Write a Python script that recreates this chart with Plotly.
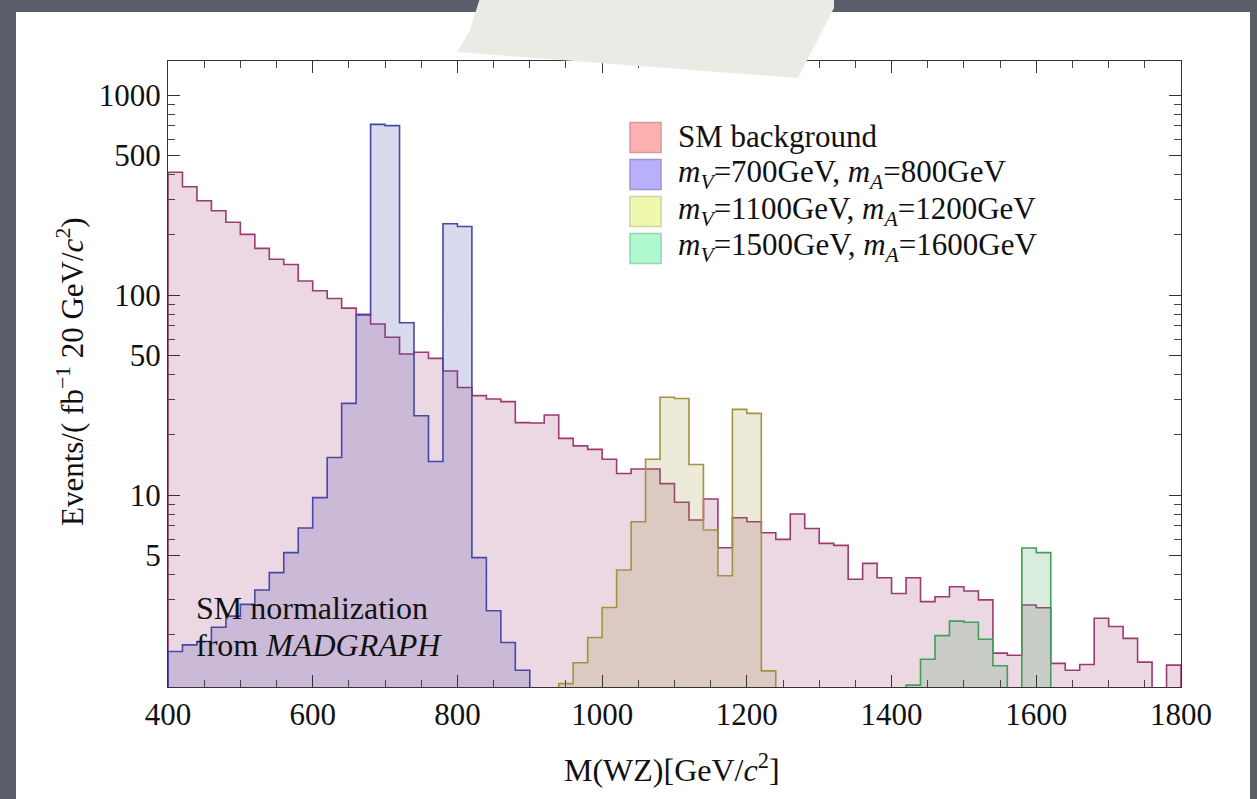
import plotly.graph_objects as go

# ---------------- data ----------------
bin_width = 20
bkg_start = 400
bkg_values = [411, 348, 296, 264, 231, 201, 171, 151, 142, 117.5,
              105, 96, 86, 80, 71.6, 61.5, 50.7, 51.7, 48.2, 41.7,
              34.5, 31.4, 30.2, 29.3, 23.0, 22.9, 25.1, 19.2, 17.6, 16.9,
              15.1, 12.8, 13.5, 13.5, 11.4, 9.2, 7.5, 9.55, 5.45, 7.7,
              7.35, 6.48, 6.0, 8.04, 6.8, 5.73, 5.6, 3.79, 4.55, 3.86,
              3.22, 3.86, 2.93, 3.1, 3.48, 3.31, 2.99, 1.62, 1.58, 2.82,
              2.73, 1.44, 1.33, 1.42, 2.42, 2.2, 1.92, 1.46, None, 1.41]

sig700_start = 400
sig700_values = [1.65, 1.78, 1.85, 2.18, 2.48, 2.84, 3.35, 4.09, 5.15, 6.84,
                 9.7, 15.4, 28.7, 79.4, 713, 703, 72.7, 24.9, 14.7, 227,
                 220, 4.86, 2.64, 1.83, 1.33]

sig1100_start = 940
sig1100_values = [1.14, 1.45, 1.94, 2.74, 4.22, 7.35, 15.1, 30.8, 30.4, 14.2,
                  6.68, 3.95, 26.8, 25.6, 1.32]

sig1500_start = 1420
sig1500_values = [1.12, 1.51, 1.98, 2.34, 2.31, 1.90, 1.40, None, 5.43, 5.15]

x_ticks = [400, 600, 800, 1000, 1200, 1400, 1600, 1800]
y_ticks = [5, 10, 50, 100, 500, 1000]
y_minor = [2, 3, 4, 6, 7, 8, 9, 20, 30, 40, 60, 70, 80, 90,
           200, 300, 400, 600, 700, 800, 900]

legend_labels = [
    "SM background",
    "<i>m</i><sub><i>V</i></sub>=700GeV, <i>m</i><sub><i>A</i></sub>=800GeV",
    "<i>m</i><sub><i>V</i></sub>=1100GeV, <i>m</i><sub><i>A</i></sub>=1200GeV",
    "<i>m</i><sub><i>V</i></sub>=1500GeV, <i>m</i><sub><i>A</i></sub>=1600GeV",
]

# ---------------- styles ----------------
FLOOR = 0.5
series = [
    (bkg_start, bkg_values, "#9c3a72", "rgba(156,58,114,0.20)"),
    (sig700_start, sig700_values, "#4848a8", "rgba(72,72,168,0.20)"),
    (sig1100_start, sig1100_values, "#a09440", "rgba(160,148,64,0.20)"),
    (sig1500_start, sig1500_values, "#40a058", "rgba(64,160,88,0.20)"),
]
legend_box = [("#ffb0b0", "#d49a9a"), ("#b8b0f8", "#9c94d8"),
              ("#f0f8b0", "#cdd498"), ("#b0f8d0", "#94d4ae")]

FONT = "Liberation Serif"
W, H = 1257, 799
L, R, T, B = 168, 1181, 61, 687


def px(x):
    return (x - L) / (R - L)


def py(y):
    return (B - y) / (B - T)


def step(start, vals):
    xs, ys = [start], [FLOOR]
    for i, v in enumerate(vals):
        xs.append(start + i * bin_width)
        ys.append(v if v is not None else FLOOR)
    xs.append(start + len(vals) * bin_width)
    ys.append(FLOOR)
    return xs, ys


fig = go.Figure()
for start, vals, lc, fc in series:
    xs, ys = step(start, vals)
    fig.add_trace(go.Scatter(x=xs, y=ys, mode="lines", line_shape="hv",
                             line=dict(color=lc, width=1.6), fill="toself",
                             fillcolor=fc, showlegend=False, hoverinfo="skip"))

shapes = []
# dark slate page with white panel
shapes.append(dict(type="rect", xref="paper", yref="paper", layer="below",
                   x0=px(16), x1=px(1250), y0=py(805), y1=py(12),
                   fillcolor="white", line=dict(width=0)))
# tape decoration
tape = [(480, -2), (834, -2), (834, 8), (798, 78), (457, 52), (470, 30)]
path = "M " + " L ".join(f"{px(a):.5f},{py(b):.5f}" for a, b in tape) + " Z"
shapes.append(dict(type="path", xref="paper", yref="paper", layer="above",
                   path=path, fillcolor="#ebeae5", line=dict(width=0)))

annotations = []
# legend (manual)
for i, (lab, (fc, bc)) in enumerate(zip(legend_labels, legend_box)):
    top = 122.5 + i * 37
    shapes.append(dict(type="rect", xref="paper", yref="paper",
                       x0=px(630), x1=px(661), y0=py(top + 30), y1=py(top),
                       fillcolor=fc, line=dict(color=bc, width=1.5)))
    annotations.append(dict(xref="paper", yref="paper", x=px(676), y=py(top + 14),
                            xanchor="left", yanchor="middle", showarrow=False,
                            text=lab, font=dict(family=FONT, size=31, color="#111")))

annotations.append(dict(xref="paper", yref="paper", x=px(194), y=py(608),
                        xanchor="left", yanchor="middle", showarrow=False,
                        text="SM normalization",
                        font=dict(family=FONT, size=32, color="#111")))
annotations.append(dict(xref="paper", yref="paper", x=px(194), y=py(645),
                        xanchor="left", yanchor="middle", showarrow=False,
                        text="from <i>MADGRAPH</i>",
                        font=dict(family=FONT, size=32, color="#111")))
annotations.append(dict(xref="paper", yref="paper", x=px(70), y=py(372),
                        xanchor="center", yanchor="middle", textangle=-90, showarrow=False,
                        text="Events/( fb<sup>−1</sup> 20 GeV/<i>c</i><sup>2</sup>)",
                        font=dict(family=FONT, size=31, color="#111")))
annotations.append(dict(xref="paper", yref="paper", x=px(672), y=py(768),
                        xanchor="center", yanchor="middle", showarrow=False,
                        text="M(WZ)[GeV/<i>c</i><sup>2</sup>]",
                        font=dict(family=FONT, size=32, color="#111")))

fig.update_layout(
    width=W, height=H,
    margin=dict(l=L, r=W - R, t=T, b=H - B),
    paper_bgcolor="#5a5e69", plot_bgcolor="white",
    showlegend=False, shapes=shapes, annotations=annotations,
    font=dict(family=FONT, size=31, color="#111"),
)
fig.update_xaxes(range=[400, 1800], tickmode="array", tickvals=x_ticks,
                 ticktext=[str(v) for v in x_ticks], ticks="inside", ticklen=12,
                 tickcolor="#333", tickwidth=1, showline=True, linecolor="#333",
                 linewidth=1, mirror="ticks", showgrid=False, zeroline=False,
                 tickfont=dict(family=FONT, size=31, color="#111"),
                 minor=dict(dtick=50, tick0=0, ticks="inside", ticklen=7,
                            tickcolor="#444", showgrid=False))
fig.update_yaxes(type="log", range=[0.04, 3.17], tickmode="array", tickvals=y_ticks,
                 ticktext=[str(v) for v in y_ticks], ticks="inside", ticklen=12,
                 tickcolor="#333", tickwidth=1, showline=True, linecolor="#333",
                 linewidth=1, mirror="ticks", showgrid=False, zeroline=False,
                 tickfont=dict(family=FONT, size=31, color="#111"),
                 minor=dict(tickmode="array", tickvals=y_minor, ticks="inside",
                            ticklen=7, tickcolor="#444", showgrid=False))

fig.write_html("out.html")
